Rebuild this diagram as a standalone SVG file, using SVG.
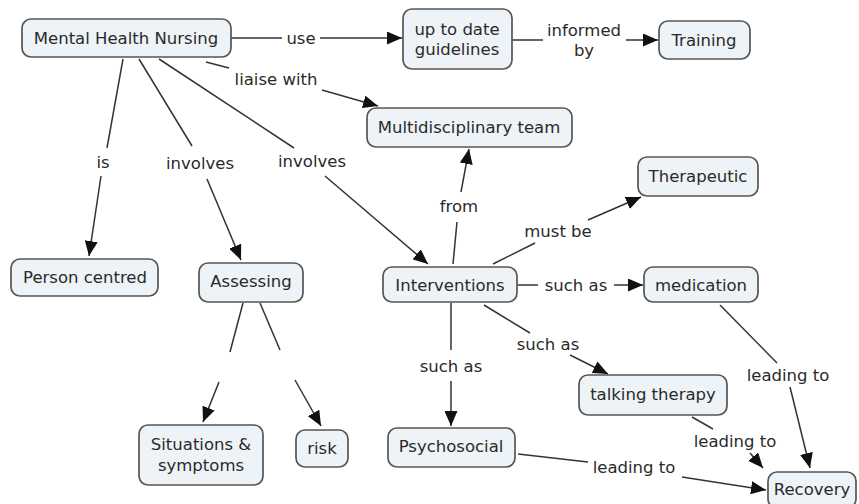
<svg xmlns="http://www.w3.org/2000/svg" width="859" height="504" viewBox="0 0 859 504">
<style>
.n rect{fill:#edf3f6;stroke:#555;stroke-width:1.7}
text{font-family:"DejaVu Sans","Liberation Sans",sans-serif;font-size:16.5px;fill:#2a2a2a;text-anchor:middle;dominant-baseline:central}
.c line{stroke:#333;stroke-width:1.5}
.a{marker-end:url(#ah)}
</style>
<defs>
<marker id="ah" markerUnits="userSpaceOnUse" markerWidth="15" markerHeight="13" refX="15" refY="6.5" orient="auto">
<path d="M0,0 L15,6.5 L0,13 Z" fill="#111"/>
</marker>
</defs>
<rect width="859" height="504" fill="#fff"/>
<g class="c">
<line x1="231" y1="38" x2="282" y2="38"/><text x="301" y="38">use</text><line class="a" x1="320" y1="38" x2="402" y2="38"/>
<line x1="512" y1="40" x2="543" y2="40"/><text x="584" y="30">informed</text><text x="584" y="50">by</text><line class="a" x1="626" y1="40" x2="658" y2="40"/>
<line x1="206" y1="62" x2="229" y2="68"/><text x="276" y="79">liaise with</text><line class="a" x1="322" y1="90" x2="378" y2="106"/>
<line x1="123" y1="59" x2="107" y2="148"/><text x="103" y="162">is</text><line class="a" x1="101" y1="176" x2="89" y2="256"/>
<line x1="139" y1="59" x2="192" y2="146"/><text x="200" y="163">involves</text><line class="a" x1="207" y1="179" x2="241" y2="260"/>
<line x1="159" y1="59" x2="294" y2="148"/><text x="312" y="161">involves</text><line class="a" x1="325" y1="176" x2="428" y2="264"/>
<line x1="453" y1="264" x2="457" y2="222"/><text x="459" y="206">from</text><line class="a" x1="461" y1="192" x2="469" y2="149"/>
<line x1="493" y1="264" x2="535" y2="243"/><text x="558" y="231">must be</text><line class="a" x1="588" y1="220" x2="641" y2="197"/>
<line x1="518" y1="285" x2="538" y2="285"/><text x="576" y="285">such as</text><line class="a" x1="614" y1="285" x2="643" y2="285"/>
<line x1="484" y1="305" x2="530" y2="333"/><text x="548" y="344">such as</text><line class="a" x1="570" y1="355" x2="608" y2="374"/>
<line x1="451" y1="303" x2="451" y2="350"/><text x="451" y="366">such as</text><line class="a" x1="451" y1="381" x2="451" y2="426"/>
<line x1="720" y1="305" x2="777" y2="363"/><text x="788" y="375">leading to</text><line class="a" x1="790" y1="387" x2="810" y2="468"/>
<line x1="692" y1="417" x2="713" y2="429"/><text x="735" y="441">leading to</text><line class="a" x1="750" y1="453" x2="763" y2="468"/>
<line x1="518" y1="454" x2="588" y2="462"/><text x="634" y="467">leading to</text><line class="a" x1="682" y1="477" x2="766" y2="490"/>
<line x1="243" y1="303" x2="230" y2="352"/><line class="a" x1="219" y1="382" x2="203" y2="422"/>
<line x1="260" y1="303" x2="280" y2="350"/><line class="a" x1="295" y1="380" x2="321" y2="426"/>
</g>
<g id="mhn" class="n"><rect x="22" y="19" width="209" height="38" rx="9"/><text x="126" y="38">Mental Health Nursing</text></g>
<g id="guidelines" class="n"><rect x="403" y="9" width="109" height="60" rx="9"/><text x="457" y="29">up to date</text><text x="457" y="49">guidelines</text></g>
<g id="training" class="n"><rect x="659" y="21" width="91" height="38" rx="9"/><text x="704" y="40">Training</text></g>
<g id="mdt" class="n"><rect x="367" y="108" width="205" height="39" rx="9"/><text x="469" y="127">Multidisciplinary team</text></g>
<g id="therapeutic" class="n"><rect x="638" y="157" width="120" height="39" rx="9"/><text x="698" y="176">Therapeutic</text></g>
<g id="person" class="n"><rect x="11" y="259" width="147" height="37" rx="9"/><text x="85" y="277">Person centred</text></g>
<g id="assessing" class="n"><rect x="199" y="263" width="104" height="39" rx="9"/><text x="251" y="281">Assessing</text></g>
<g id="interventions" class="n"><rect x="383" y="267" width="134" height="35" rx="9"/><text x="450" y="285">Interventions</text></g>
<g id="medication" class="n"><rect x="644" y="267" width="114" height="35" rx="9"/><text x="701" y="285">medication</text></g>
<g id="talking" class="n"><rect x="579" y="375" width="148" height="40" rx="9"/><text x="653" y="394">talking therapy</text></g>
<g id="situations" class="n"><rect x="139" y="425" width="124" height="60" rx="9"/><text x="201" y="444">Situations &amp;</text><text x="201" y="465">symptoms</text></g>
<g id="risk" class="n"><rect x="296" y="430" width="52" height="37" rx="9"/><text x="322" y="448">risk</text></g>
<g id="psychosocial" class="n"><rect x="388" y="428" width="127" height="39" rx="9"/><text x="451" y="446">Psychosocial</text></g>
<g id="recovery" class="n"><rect x="768" y="472" width="88" height="36" rx="9"/><text x="812" y="489">Recovery</text></g>
</svg>
